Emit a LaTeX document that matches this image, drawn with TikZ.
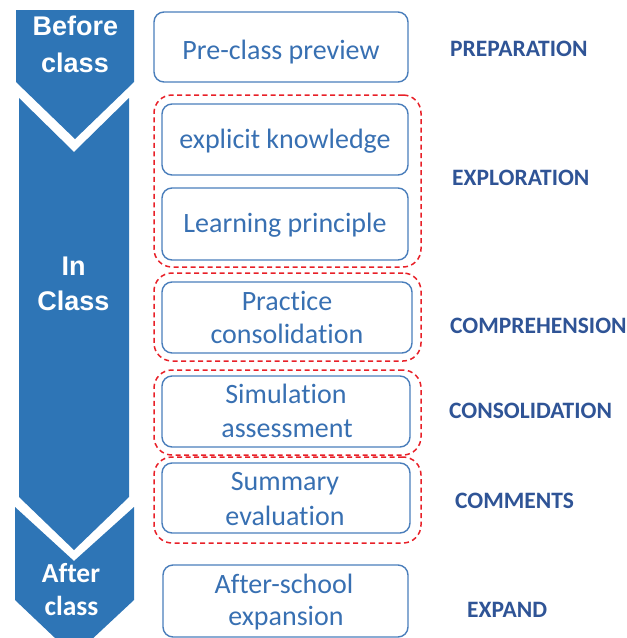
\documentclass[tikz,border=0pt]{standalone}
\usepackage{fontspec}
\setmainfont{Carlito}[Ligatures=NoCommon]
\newfontfamily\chevfont{Liberation Sans}
\definecolor{chevblue}{RGB}{46,117,182}
\definecolor{boxblue}{RGB}{74,126,187}
\definecolor{txtblue}{RGB}{56,112,178}
\definecolor{lblblue}{RGB}{47,84,150}
\definecolor{grpred}{RGB}{232,32,40}
\tikzset{
  chev/.style={fill=chevblue, draw=none},
  chevtext/.style={text=white, font=\chevfont\bfseries\fontsize{27}{27}\selectfont, anchor=base, inner sep=0pt},
  chevtextb/.style={text=white, font=\bfseries\fontsize{27.5}{27.5}\selectfont, anchor=base, inner sep=0pt},
  stepbox/.style={draw=boxblue, line width=1.4pt, rounded corners=10pt, inner sep=0pt},
  boxtext/.style={text=txtblue, font=\fontsize{28}{34}\selectfont, anchor=base, inner sep=0pt},
  groupbox/.style={draw=grpred, dash pattern=on 5pt off 3.5pt, line width=1.5pt, rounded corners=18pt, inner sep=0pt},
  phase/.style={text=lblblue, font=\bfseries\fontsize{23.5}{28}\selectfont, anchor=base west, inner sep=0pt}
}
\begin{document}
\begin{tikzpicture}[x=1pt,y=-1pt]
\useasboundingbox (0,0) rectangle (627,638);
% stage chevrons on the left
\fill[chev] (16,10) -- (134,10) -- (134,82) -- (75,139) -- (16,82) -- cycle;
\fill[chev] (19,98) -- (74,152) -- (129,98) -- (129,497) -- (74,550) -- (19,497) -- cycle;
\fill[chev] (15,507) -- (74,561) -- (134,507) -- (134,600) -- (74,656) -- (15,600) -- cycle;
\node[chevtext] (before1) at (75.5,35) {Before};
\node[chevtext] (before2) at (75,72) {class};
\node[chevtext] (in1) at (73.5,275) {In};
\node[chevtext] (in2) at (73.5,310) {Class};
\node[chevtextb] (after1) at (71,582) {After};
\node[chevtextb] (after2) at (71.5,615) {class};
% dashed groupings
\node[groupbox, minimum width=267pt, minimum height=172pt] (g1) at (287.5,181) {};
\node[groupbox, minimum width=267pt, minimum height=88pt] (g2) at (287.5,317) {};
\node[groupbox, minimum width=267pt, minimum height=85pt] (g3) at (287.5,412.5) {};
\node[groupbox, minimum width=267pt, minimum height=86pt] (g4) at (287.5,500) {};
% activity boxes
\node[stepbox, minimum width=254pt, minimum height=70pt] (pre) at (281,47) {};
\node[stepbox, minimum width=246pt, minimum height=71pt] (expl) at (285,139.5) {};
\node[stepbox, minimum width=246pt, minimum height=72pt] (learn) at (285,224) {};
\node[stepbox, minimum width=250pt, minimum height=71pt] (prac) at (287,317.5) {};
\node[stepbox, minimum width=248pt, minimum height=71pt] (sim) at (286,411.5) {};
\node[stepbox, minimum width=248pt, minimum height=70pt] (summ) at (286,498) {};
\node[stepbox, minimum width=245pt, minimum height=72pt] (aftr) at (285.5,601) {};
\node[boxtext] (pret) at (281,59) {Pre-class preview};
\node[boxtext] (explt) at (285,148) {explicit knowledge};
\node[boxtext] (learnt) at (285,232) {Learning principle};
\node[boxtext] (prac1) at (287,310) {Practice};
\node[boxtext] (prac2) at (287,343) {consolidation};
\node[boxtext] (sim1) at (286,403) {Simulation};
\node[boxtext] (sim2) at (287,437) {assessment};
\node[boxtext] (summ1) at (285,490) {Summary};
\node[boxtext] (summ2) at (285,525) {evaluation};
\node[boxtext] (aftr1) at (284,593) {After-school};
\node[boxtext] (aftr2) at (286,625) {expansion};
% phase labels
\node[phase] (p1) at (450,56) {PREPARATION};
\node[phase] (p2) at (452,185) {EXPLORATION};
\node[phase] (p3) at (450,333) {COMPREHENSION};
\node[phase] (p4) at (449,418) {CONSOLIDATION};
\node[phase] (p5) at (455,508) {COMMENTS};
\node[phase] (p6) at (467,617) {EXPAND};
\end{tikzpicture}
\end{document}
